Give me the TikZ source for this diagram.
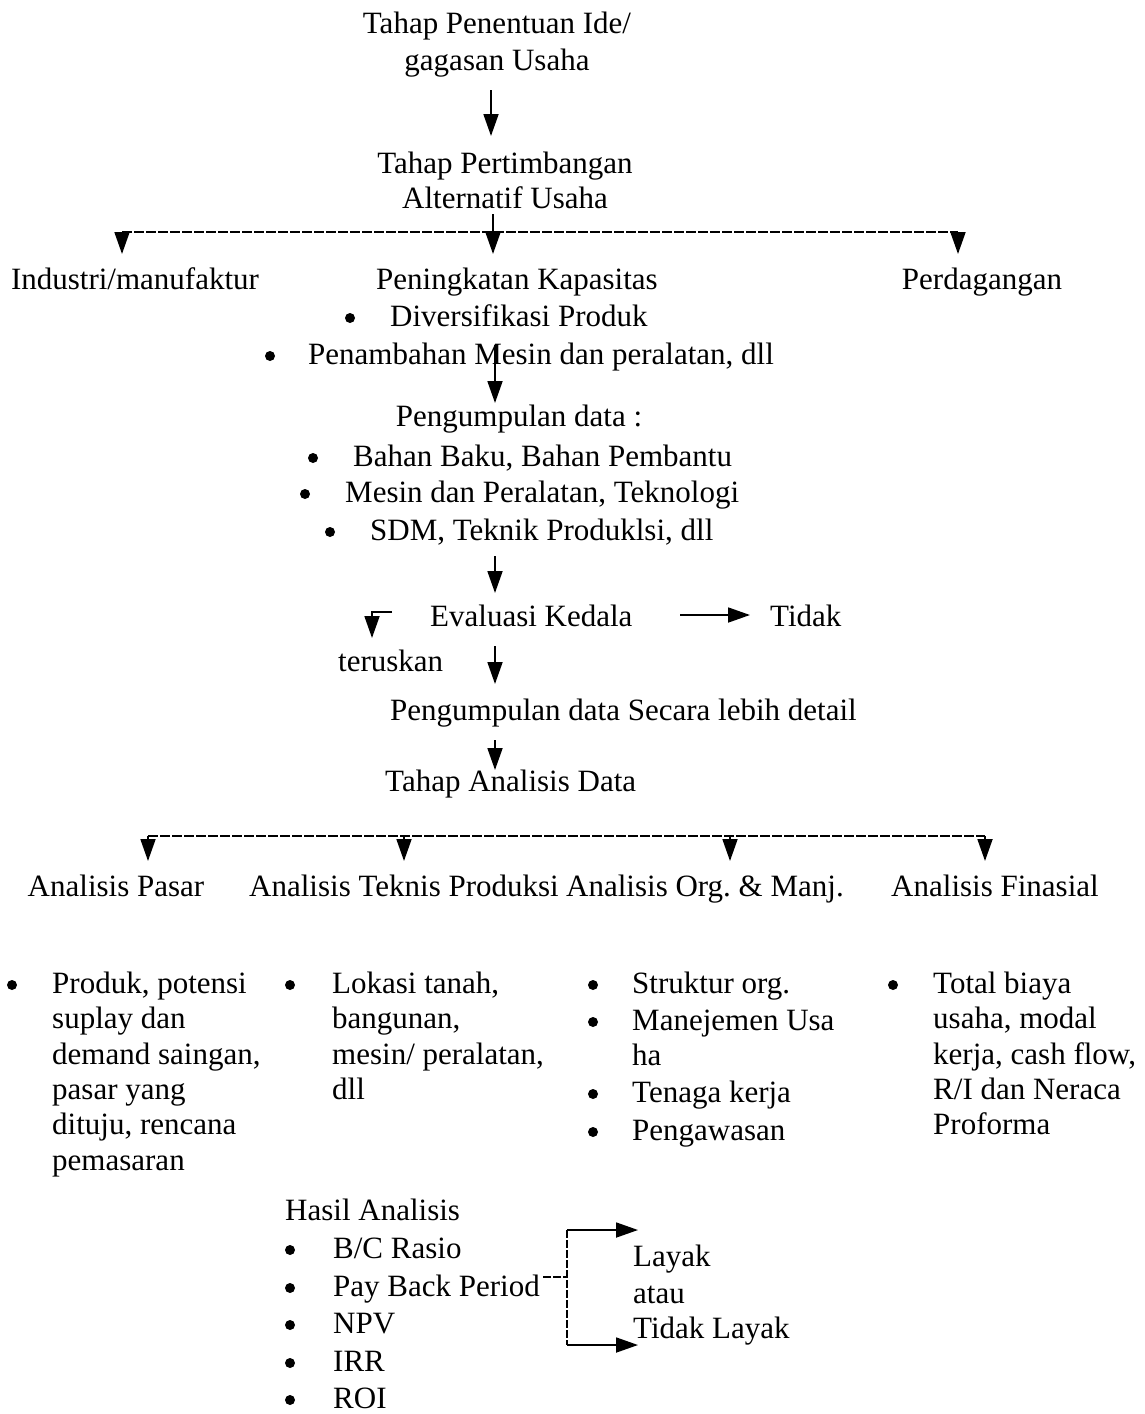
\documentclass[tikz,border=0pt]{standalone}
\usepackage{fontspec}
\setmainfont{Liberation Serif}
\usetikzlibrary{arrows.meta}
\newcommand\fs{\fontsize{31}{36}\selectfont}
\frenchspacing
\begin{document}
\begin{tikzpicture}[x=1pt,y=-1pt,
  txt/.style={inner sep=0pt, font=\fs, anchor=mid, yshift=-6pt},
  lw/.style={txt, anchor=mid west},
  bul/.style={circle, fill=black, inner sep=0pt, minimum size=10pt},
  arr/.style={-{Triangle[length=22pt,width=15pt]}, line width=1.8pt},
  bar/.style={line width=2.4pt, dash pattern=on 10pt off 2pt},
  brk/.style={line width=1.8pt, dash pattern=on 8pt off 2pt}]
\useasboundingbox[fill=white] (0,0) rectangle (1144,1414);

% top
\node[txt] (t1a) at (497,25) {Tahap Penentuan Ide/};
\node[txt] (t1b) at (497,62) {gagasan Usaha};
\coordinate (a1s) at (491,90); \coordinate (a1e) at (491,136);
\draw[arr] (a1s) -- (a1e);
\node[txt] (t2a) at (505,165) {Tahap Pertimbangan};
\node[txt] (t2b) at (505,200) {Alternatif Usaha};

\coordinate (bl) at (122,232); \coordinate (br) at (958,232);
\draw[bar] (bl) -- (br);
\coordinate (d1) at (122,254); \coordinate (d2) at (493,254); \coordinate (d3) at (958,254);
\coordinate (c2) at (493,214);
\draw[arr] (bl) -- (d1);
\draw[arr] (c2) -- (d2);
\draw[arr] (br) -- (d3);

\node[txt] (ind) at (135,281) {Industri/manufaktur};
\node[txt] (pk) at (517,281) {Peningkatan Kapasitas};
\node[txt] (pd) at (982,281) {Perdagangan};
\node[bul] (bb1) at (350,318) {};
\node[lw] (pk1) at (390,318) {Diversifikasi Produk};
\node[bul] (bb2) at (270,356) {};
\node[lw] (pk2) at (308,356) {Penambahan Mesin dan peralatan, dll};
\coordinate (a2s) at (495,345); \coordinate (a2e) at (495,403);
\draw[arr] (a2s) -- (a2e);

\node[txt] (pgd) at (519,418) {Pengumpulan data :};
\node[bul] (bb3) at (313,458) {};
\node[lw] (pg1) at (353,458) {Bahan Baku, Bahan Pembantu};
\node[bul] (bb4) at (305,494) {};
\node[lw] (pg2) at (345,494) {Mesin dan Peralatan, Teknologi};
\node[bul] (bb5) at (330,532) {};
\node[lw] (pg3) at (370,532) {SDM, Teknik Produklsi, dll};
\coordinate (a3s) at (495,556); \coordinate (a3e) at (495,593);
\draw[arr] (a3s) -- (a3e);

\node[lw] (ev) at (430,618) {Evaluasi Kedala};
\coordinate (l1) at (392,612); \coordinate (l2) at (372,638);
\draw[arr] (l1) -| (l2);
\node[lw] (td) at (770,618) {Tidak};
\coordinate (r1) at (680,615); \coordinate (r2) at (750,615);
\draw[arr] (r1) -- (r2);
\node[lw] (ter) at (338,663) {teruskan};
\coordinate (a4s) at (495,646); \coordinate (a4e) at (495,684);
\draw[arr] (a4s) -- (a4e);
\node[lw] (pdd) at (390,712) {Pengumpulan data Secara lebih detail};
\coordinate (a5s) at (495,740); \coordinate (a5e) at (495,770);
\draw[arr] (a5s) -- (a5e);
\node[lw] (tad) at (385,783) {Tahap Analisis Data};

\coordinate (bl2) at (148,836); \coordinate (br2) at (985,836);
\draw[bar] (bl2) -- (br2);
\coordinate (m2) at (404,836); \coordinate (m3) at (730,836);
\coordinate (e1) at (148,861); \coordinate (e2) at (404,861);
\coordinate (e3) at (730,861); \coordinate (e4) at (985,861);
\draw[arr] (bl2) -- (e1);
\draw[arr] (m2) -- (e2);
\draw[arr] (m3) -- (e3);
\draw[arr] (br2) -- (e4);

\node[txt] (ap) at (116,888) {Analisis Pasar};
\node[txt] (at) at (404,888) {Analisis Teknis Produksi};
\node[txt] (ao) at (705,888) {Analisis Org. \& Manj.};
\node[txt] (af) at (995,888) {Analisis Finasial};

% column 1
\node[bul] (cb1) at (12,985) {};
\foreach \t [count=\i] in {{Produk, potensi},{suplay dan},{demand saingan,},{pasar yang},{dituju, rencana},{pemasaran}}
  \node[lw] (c1l\i) at (52,{985+35.4*(\i-1)}) {\t};
% column 2
\node[bul] (cb2) at (290,985) {};
\foreach \t [count=\i] in {{Lokasi tanah,},{bangunan,},{mesin/ peralatan,},{dll}}
  \node[lw] (c2l\i) at (332,{985+35.4*(\i-1)}) {\t};
% column 3
\node[bul] (cb3a) at (593,985) {};
\node[lw] (c3l1) at (632,985) {Struktur org.};
\node[bul] (cb3b) at (593,1022) {};
\node[lw] (c3l2) at (632,1022) {Manejemen Usa};
\node[lw] (c3l3) at (632,1057) {ha};
\node[bul] (cb3c) at (593,1094) {};
\node[lw] (c3l4) at (632,1094) {Tenaga kerja};
\node[bul] (cb3d) at (593,1132) {};
\node[lw] (c3l5) at (632,1132) {Pengawasan};
% column 4
\node[bul] (cb4) at (893,985) {};
\foreach \t [count=\i] in {{Total biaya},{usaha, modal},{kerja, cash flow,},{R/I dan Neraca},{Proforma}}
  \node[lw] (c4l\i) at (933,{985+35.4*(\i-1)}) {\t};

% hasil
\node[lw] (ha) at (285,1212) {Hasil Analisis};
\foreach \t/\y [count=\i] in {{B/C Rasio}/1250,{Pay Back Period}/1288,{NPV}/1325,{IRR}/1363,{ROI}/1400}{
  \node[bul] (hb\i) at (290,\y) {};
  \node[lw] (hl\i) at (333,\y) {\t};
}
\coordinate (k0) at (543,1277); \coordinate (k1) at (567,1277);
\coordinate (kt) at (567,1230); \coordinate (kb) at (567,1345);
\coordinate (kte) at (638,1230); \coordinate (kbe) at (638,1345);
\draw[brk] (k0) -- (k1);
\draw[brk] (kt) -- (kb);
\draw[arr] (kt) -- (kte);
\draw[arr] (kb) -- (kbe);
\node[lw] (ly) at (633,1258) {Layak};
\node[lw] (ata) at (633,1295) {atau};
\node[lw] (tl) at (633,1330) {Tidak Layak};
\end{tikzpicture}
\end{document}
